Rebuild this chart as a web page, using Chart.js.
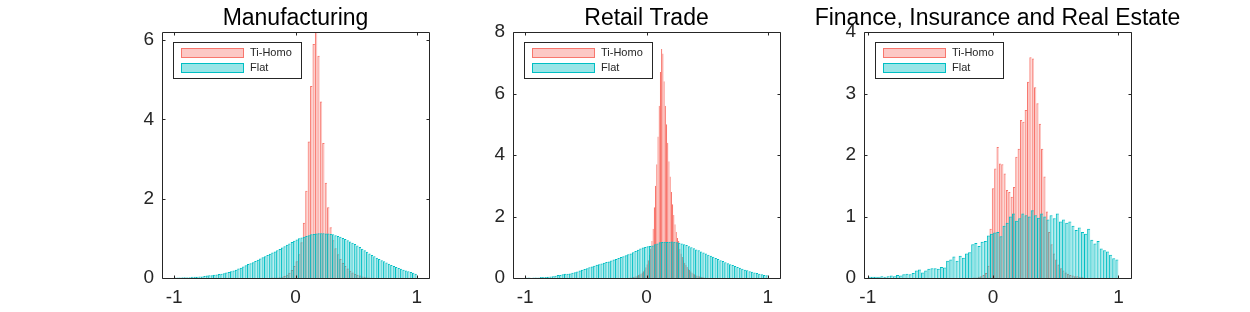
<!DOCTYPE html>
<html>
<head>
<meta charset="utf-8">
<script src="https://cdn.jsdelivr.net/npm/chart.js@4.4.1/dist/chart.umd.min.js"></script>
<style>
  body { margin: 0; background: #fff; width: 1250px; height: 312px; position: relative; overflow: hidden; }
  canvas { position: absolute; top: 0; }
</style>
</head>
<body>
<canvas id="c1" width="427" height="312" style="left:82px"></canvas>
<canvas id="c2" width="427" height="312" style="left:433px"></canvas>
<canvas id="c3" width="427" height="312" style="left:784px"></canvas>
<script>
// titres des panneaux et légende
const titles = ['Manufacturing', 'Retail Trade', 'Finance, Insurance and Real Estate'];
const seriesNames = ['Ti-Homo', 'Flat'];
const xTicks = [-1, 0, 1];

// Manufacturing : histogrammes (densité), pas de 0.02
const mfgFlatStart = -1, mfgFlatWidth = 0.02;
const mfgFlat = [
  0.01,0.01,0.01,0.02,0.02,0.02,0.02,0.03,0.03,0.03,
  0.04,0.04,0.05,0.06,0.07,0.07,0.08,0.09,0.10,0.11,
  0.12,0.14,0.15,0.17,0.19,0.21,0.24,0.26,0.29,0.32,
  0.35,0.37,0.40,0.43,0.46,0.49,0.52,0.55,0.58,0.61,
  0.64,0.67,0.70,0.73,0.77,0.80,0.84,0.87,0.91,0.94,
  0.97,1.00,1.02,1.04,1.06,1.08,1.10,1.11,1.12,1.13,
  1.13,1.13,1.12,1.12,1.11,1.10,1.08,1.06,1.04,1.01,
  0.98,0.95,0.92,0.89,0.86,0.82,0.78,0.74,0.70,0.66,
  0.62,0.58,0.55,0.51,0.48,0.45,0.42,0.39,0.36,0.33,
  0.30,0.28,0.25,0.23,0.21,0.19,0.17,0.15,0.13,0.11
];
const mfgTiStart = -0.2, mfgTiWidth = 0.02;
const mfgTi = [
  0.01,0.01,0.01,0.02,0.03,0.05,0.08,0.13,0.20,0.30,
  0.42,0.60,0.90,1.39,2.20,3.44,4.84,5.90,6.60,5.60,
  4.45,3.40,2.40,1.78,1.28,0.95,0.75,0.60,0.48,0.38,
  0.30,0.24,0.18,0.14,0.10,0.08,0.06,0.04,0.03,0.02,
  0.01
];
const mfgYTicks = [0, 2, 4, 6];

// Retail Trade
const retFlatStart = -1, retFlatWidth = 0.02;
const retFlat = [
  0.02,0.02,0.01,0.02,0.02,0.02,0.03,0.03,0.03,0.04,
  0.05,0.06,0.07,0.10,0.10,0.12,0.14,0.14,0.15,0.17,
  0.19,0.21,0.24,0.27,0.29,0.32,0.35,0.37,0.40,0.43,
  0.45,0.47,0.50,0.52,0.54,0.57,0.60,0.62,0.65,0.68,
  0.71,0.74,0.77,0.80,0.84,0.88,0.92,0.96,0.99,1.01,
  1.03,1.04,1.06,1.10,1.12,1.16,1.17,1.18,1.17,1.18,
  1.19,1.18,1.16,1.15,1.12,1.10,1.07,1.03,1.00,0.97,
  0.93,0.90,0.86,0.83,0.80,0.76,0.72,0.69,0.65,0.62,
  0.58,0.55,0.51,0.48,0.45,0.42,0.39,0.36,0.33,0.30,
  0.27,0.25,0.22,0.20,0.18,0.16,0.14,0.12,0.10,0.09
];
const retTiStart = -0.2, retTiWidth = 0.01;
const retTi = [
  0,0,0,0,0.01,0.01,0.02,0.02,0.03,0.04,
  0.05,0.06,0.08,0.10,0.12,0.15,0.18,0.22,0.28,0.35,
  0.45,0.58,0.75,0.95,1.20,1.60,2.30,3.00,3.70,4.60,
  5.60,6.70,7.45,7.30,6.40,5.60,5.00,4.40,3.80,3.30,
  2.80,2.40,2.05,1.75,1.50,1.30,1.20,0.95,0.80,0.68,
  0.58,0.50,0.42,0.36,0.30,0.26,0.22,0.18,0.15,0.12,
  0.10,0.08,0.07,0.06,0.05,0.04,0.03,0.02,0.02,0.01
];
const retYTicks = [0, 2, 4, 6, 8];

// Finance, Insurance and Real Estate
const fireFlatStart = -1, fireFlatWidth = 0.025;
const fireFlat = [
  0.02,0.02,0.02,0.02,0.03,0.02,0.03,0.04,
  0.03,0.05,0.04,0.06,0.07,0.06,0.08,0.12,
  0.14,0.09,0.12,0.15,0.16,0.16,0.15,0.18,
  0.17,0.28,0.30,0.35,0.28,0.36,0.33,0.40,
  0.42,0.55,0.57,0.52,0.59,0.60,0.69,0.72,
  0.74,0.75,0.68,0.85,0.90,1.00,1.05,0.93,
  0.97,1.05,1.02,1.00,1.10,1.02,0.98,1.05,
  1.00,0.95,1.02,0.97,1.05,0.92,0.95,0.90,
  0.92,0.85,0.78,0.82,0.75,0.72,0.80,0.62,
  0.56,0.60,0.48,0.45,0.43,0.38,0.32,0.30
];
const fireTiStart = -0.16, fireTiWidth = 0.0187;
const fireTi = [
  0.01,0.01,0.02,0.03,0.05,0.08,0.20,0.80,
  1.46,1.78,2.13,1.86,1.85,1.70,1.43,1.40,1.32,1.48,
  1.97,2.10,2.57,2.54,2.73,3.19,3.59,3.57,3.10,2.84,
  2.51,2.10,1.65,1.08,0.75,0.55,0.40,0.30,0.22,0.16,
  0.12,0.09,0.07,0.05,0.04,0.03,0.03,0.02,0.02,0.01
];
const fireYTicks = [0, 1, 2, 3, 4];

const tiFill = 'rgba(248,118,109,0.4)', tiEdge = 'rgb(248,118,109)';
const flatFill = 'rgba(0,191,196,0.4)', flatEdge = 'rgb(0,191,196)';
const axisColor = '#262626';
const fontFamily = '"Liberation Sans", Arial, Helvetica, sans-serif';
const edgeLeft = { top: 1, left: 1, right: 0, bottom: 0 };
const edgeBoth = { top: 1, left: 1, right: 1, bottom: 0 };

function toBins(start, width, vals) {
  return vals.map((v, i) => ({ x: start + (i + 0.5) * width, y: v }));
}

// titre, cadre, graduations internes et légende à la MATLAB
const axesBox = {
  id: 'axesBox',
  afterDatasetsDraw(chart, args, opts) {
    const { ctx, chartArea: a, scales } = chart;
    const l = a.left + 0.5, r = a.right + 0.5, t = a.top + 0.5, b = a.bottom + 0.5;
    const tl = 3;
    ctx.save();
    ctx.strokeStyle = axisColor;
    ctx.lineWidth = 1;
    ctx.beginPath();
    ctx.rect(l, t, r - l, b - t);
    scales.x.ticks.forEach(tk => {
      const px = Math.round(scales.x.getPixelForValue(tk.value)) + 0.5;
      ctx.moveTo(px, b); ctx.lineTo(px, b - tl);
      ctx.moveTo(px, t); ctx.lineTo(px, t + tl);
    });
    scales.y.ticks.forEach(tk => {
      const py = Math.round(scales.y.getPixelForValue(tk.value)) + 0.5;
      ctx.moveTo(l, py); ctx.lineTo(l + tl, py);
      ctx.moveTo(r, py); ctx.lineTo(r - tl, py);
    });
    ctx.stroke();

    // titre centré sur la zone du graphique
    ctx.fillStyle = '#000';
    ctx.font = '23px ' + fontFamily;
    ctx.textAlign = 'center';
    ctx.textBaseline = 'alphabetic';
    ctx.fillText(opts.title, (a.left + a.right) / 2, 25);

    // légende
    const bx = a.left + 11, by = a.top + 10;
    ctx.fillStyle = '#fff';
    ctx.fillRect(bx, by, 128, 36);
    ctx.strokeRect(bx + 0.5, by + 0.5, 128, 36);
    const entries = [[tiFill, tiEdge], [flatFill, flatEdge]];
    ctx.font = '11px ' + fontFamily;
    ctx.textAlign = 'left';
    ctx.textBaseline = 'middle';
    entries.forEach(([fill, edge], i) => {
      const py = by + 6 + i * 15;
      ctx.fillStyle = fill;
      ctx.fillRect(bx + 8, py, 63, 9);
      ctx.strokeStyle = edge;
      ctx.strokeRect(bx + 8.5, py + 0.5, 62, 9);
      ctx.fillStyle = axisColor;
      ctx.fillText(seriesNames[i], bx + 77, py + 5);
    });
    ctx.restore();
  }
};

function makePanel(id, title, flatData, tiData, tiEdgeWidth, xMin, xMax, yMax, yTicks) {
  const ctx = document.getElementById(id).getContext('2d');
  return new Chart(ctx, {
    type: 'bar',
    data: {
      datasets: [
        {
          label: seriesNames[1], data: flatData, xAxisID: 'x', order: 0,
          backgroundColor: flatFill, borderColor: flatEdge, borderWidth: edgeLeft
        },
        {
          label: seriesNames[0], data: tiData, xAxisID: 'x2', order: 1,
          backgroundColor: tiFill, borderColor: tiEdge, borderWidth: tiEdgeWidth
        }
      ]
    },
    options: {
      responsive: false,
      animation: false,
      devicePixelRatio: 1,
      layout: { padding: { left: 30, right: 80, top: 32, bottom: 0 } },
      datasets: {
        bar: {
          barPercentage: 1, categoryPercentage: 1, grouped: false, inflateAmount: 0,
          borderSkipped: false
        }
      },
      plugins: {
        legend: { display: false },
        tooltip: { enabled: false },
        title: { display: false },
        axesBox: { title: title }
      },
      scales: {
        x: {
          type: 'linear', min: xMin, max: xMax, offset: false,
          grid: { display: false, drawTicks: false, offset: false }, border: { display: false },
          afterBuildTicks: s => { s.ticks = xTicks.map(v => ({ value: v })); },
          afterFit: s => { s.height = 34; },
          ticks: { color: axisColor, padding: 8, font: { family: fontFamily, size: 19 } }
        },
        x2: {
          type: 'linear', min: xMin, max: xMax, offset: false, display: false,
          grid: { offset: false }
        },
        y: {
          min: 0, max: yMax,
          grid: { display: false, drawTicks: false }, border: { display: false },
          afterBuildTicks: s => { s.ticks = yTicks.map(v => ({ value: v })); },
          afterFit: s => { s.width = 50; },
          ticks: { color: axisColor, padding: 8, font: { family: fontFamily, size: 19 } }
        }
      }
    },
    plugins: [axesBox]
  });
}

makePanel('c1', titles[0], toBins(mfgFlatStart, mfgFlatWidth, mfgFlat),
  toBins(mfgTiStart, mfgTiWidth, mfgTi), edgeLeft, -1.1, 1.1, 6.2, mfgYTicks);
makePanel('c2', titles[1], toBins(retFlatStart, retFlatWidth, retFlat),
  toBins(retTiStart, retTiWidth, retTi), edgeBoth, -1.1, 1.1, 8, retYTicks);
makePanel('c3', titles[2], toBins(fireFlatStart, fireFlatWidth, fireFlat),
  toBins(fireTiStart, fireTiWidth, fireTi), edgeLeft, -1.03, 1.1, 4, fireYTicks);
</script>
</body>
</html>
